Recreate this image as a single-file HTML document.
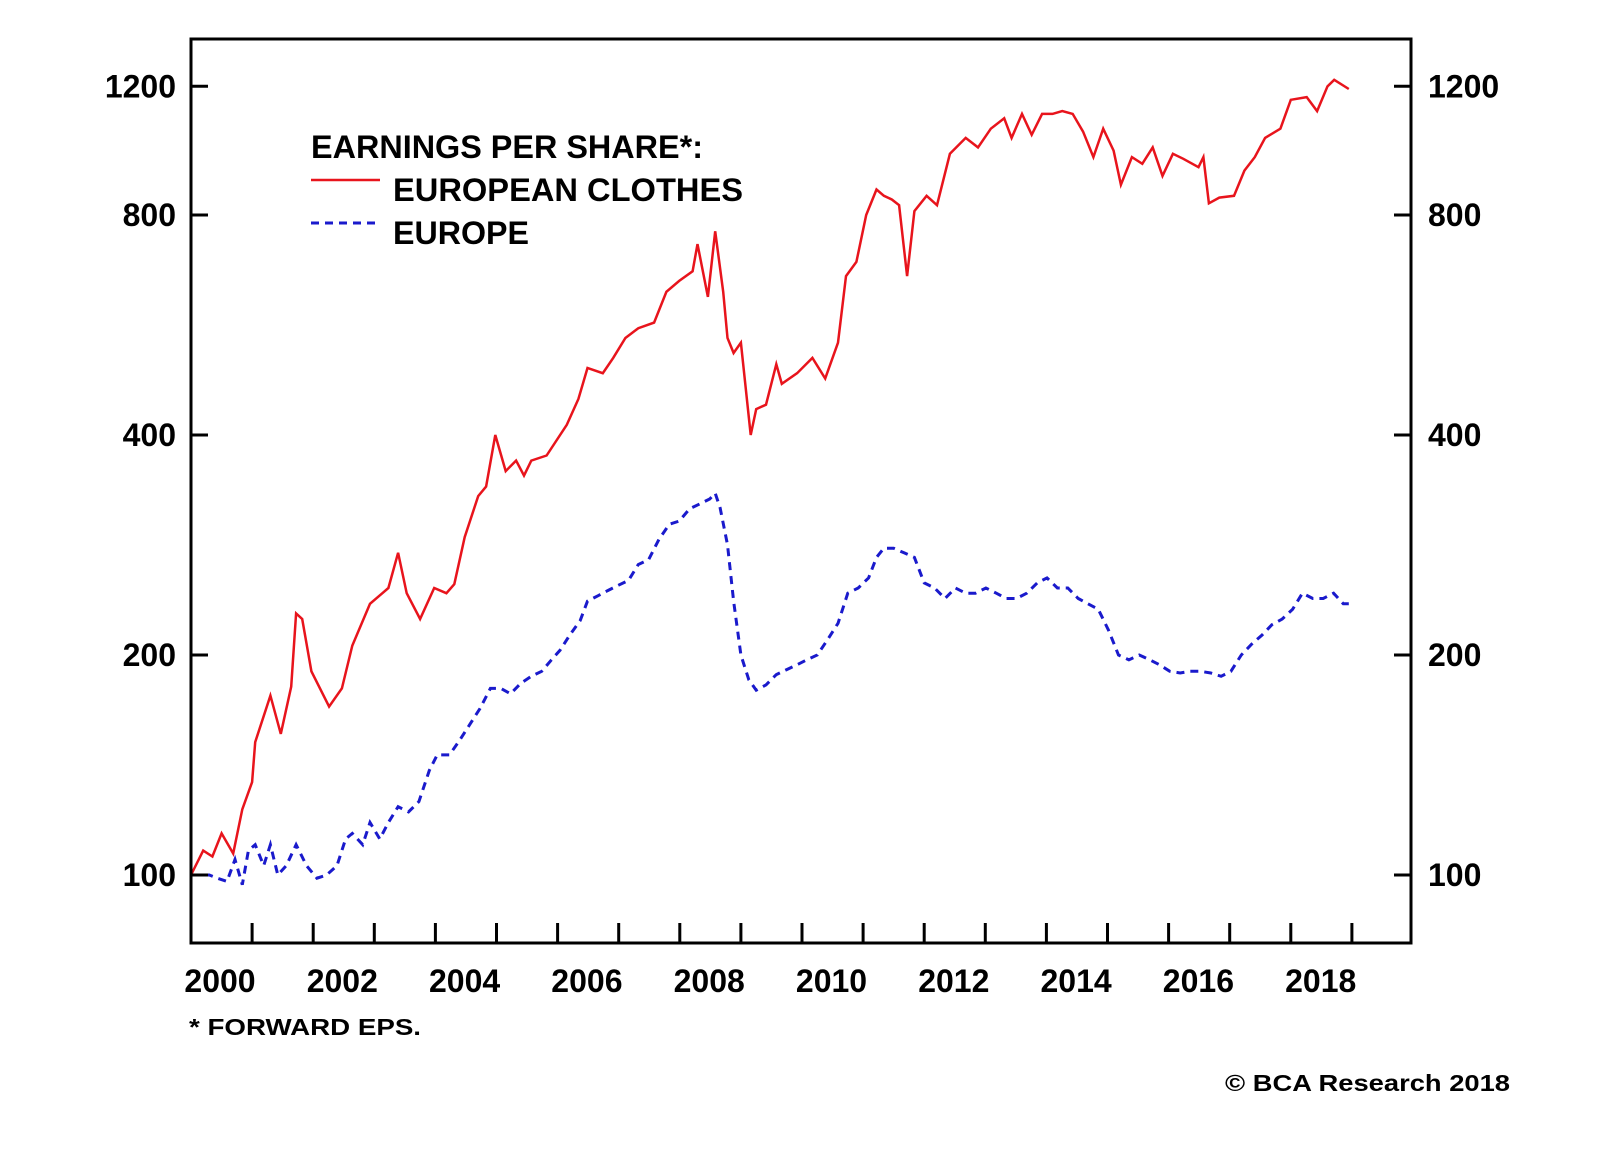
<!DOCTYPE html>
<html><head><meta charset="utf-8">
<style>
html,body{margin:0;padding:0;background:#fff;}
svg{display:block;font-family:"Liberation Sans",Arial,sans-serif;font-weight:bold;}
</style></head>
<body>
<svg id="chart" width="1600" height="1152" viewBox="0 0 1600 1152" xmlns="http://www.w3.org/2000/svg">
<g id="plot"></g>
<g id="axes"></g>
<g>
  <text x="311" y="158" font-size="32" textLength="392" lengthAdjust="spacingAndGlyphs">EARNINGS PER SHARE*:</text>
  <line x1="311" y1="180" x2="380" y2="180" stroke="#e8141c" stroke-width="2.5"/>
  <text x="393" y="201" font-size="32" textLength="350" lengthAdjust="spacingAndGlyphs">EUROPEAN CLOTHES</text>
  <line x1="311" y1="223" x2="380" y2="223" stroke="#1a1acc" stroke-width="3" stroke-dasharray="8,6"/>
  <text x="393" y="244" font-size="32" textLength="136" lengthAdjust="spacingAndGlyphs">EUROPE</text>
</g>
<text x="189" y="1035" font-size="23" textLength="232" lengthAdjust="spacingAndGlyphs">* FORWARD EPS.</text>
<text x="1510" y="1091" font-size="23" text-anchor="end" textLength="285" lengthAdjust="spacingAndGlyphs">© BCA Research 2018</text>
</svg>
<script>
const yTicks=[100,200,400,800,1200];
const xLabels=["2000","2002","2004","2006","2008","2010","2012","2014","2016","2018"];
const redT=[0,0.2,0.35,0.5,0.69,0.84,1.0,1.05,1.3,1.47,1.64,1.72,1.82,1.97,2.26,2.47,2.64,2.93,3.23,3.39,3.53,3.75,3.98,4.18,4.31,4.48,4.7,4.83,4.98,5.15,5.32,5.45,5.57,5.82,6.15,6.34,6.49,6.74,6.91,7.11,7.32,7.58,7.78,7.99,8.21,8.29,8.46,8.58,8.71,8.78,8.88,9.0,9.16,9.25,9.41,9.58,9.67,9.92,10.17,10.38,10.59,10.72,10.89,11.05,11.22,11.34,11.47,11.59,11.72,11.84,12.04,12.21,12.42,12.68,12.88,13.09,13.31,13.43,13.6,13.76,13.93,14.1,14.26,14.43,14.6,14.77,14.93,15.1,15.22,15.4,15.57,15.74,15.9,16.07,16.24,16.49,16.57,16.66,16.83,17.07,17.24,17.41,17.58,17.83,18.0,18.26,18.43,18.6,18.71,18.95];
const redV=[100,108,106,114,107,123,134,152,176,156,181,228,224,190,170,180,206,235,247,276,243,224,247,243,250,290,330,340,400,357,369,352,369,375,413,448,494,486,510,543,560,570,628,650,670,730,618,760,628,543,518,535,400,434,440,500,470,486,510,478,535,660,690,800,867,850,840,825,660,810,850,825,970,1020,990,1050,1085,1020,1100,1030,1100,1100,1110,1100,1040,960,1050,980,880,960,940,990,905,970,955,930,960,830,845,850,920,960,1020,1050,1150,1160,1110,1200,1225,1190];
const blueT=[0,0.13,0.3,0.43,0.59,0.72,0.84,0.94,1.05,1.19,1.3,1.42,1.56,1.72,1.89,2.06,2.22,2.39,2.53,2.64,2.81,2.93,3.09,3.23,3.39,3.56,3.73,3.9,4.03,4.23,4.4,4.57,4.73,4.9,5.07,5.23,5.4,5.57,5.74,5.9,6.04,6.2,6.37,6.49,6.66,6.82,6.99,7.16,7.32,7.49,7.66,7.83,7.99,8.16,8.33,8.49,8.58,8.66,8.78,8.88,9.0,9.13,9.25,9.41,9.58,9.75,9.92,10.08,10.25,10.42,10.59,10.75,10.92,11.09,11.22,11.34,11.5,11.67,11.84,12.0,12.17,12.34,12.51,12.68,12.84,13.01,13.18,13.34,13.51,13.68,13.85,14.01,14.18,14.35,14.52,14.68,14.85,15.02,15.18,15.35,15.52,15.69,15.85,16.02,16.19,16.35,16.52,16.69,16.86,17.02,17.19,17.36,17.53,17.69,17.86,18.03,18.19,18.36,18.53,18.7,18.86,18.95];
const blueV=[100,100,100,99,98,105,97,108,110,103,110,100,103,110,103,99,100,103,112,114,110,118,112,118,124,122,126,139,146,146,153,161,169,180,180,177,183,187,190,197,203,213,223,237,241,245,249,253,266,270,288,302,305,317,322,327,333,318,283,237,200,185,179,182,188,191,194,197,200,210,221,243,247,255,272,280,280,276,272,251,247,239,247,243,243,247,243,239,239,243,251,255,247,247,239,235,231,216,200,197,200,197,194,190,189,190,190,189,187,190,200,207,213,220,224,231,243,239,239,243,235,235];

const L=191,R=1411,T=39,B=943;
const NS="http://www.w3.org/2000/svg";
function xs(t){return L+61.1*t;}
function ys(v){return 875-220*Math.log2(v/100);}
function mk(tag,attrs,parent){const e=document.createElementNS(NS,tag);for(const k in attrs)e.setAttribute(k,attrs[k]);parent.appendChild(e);return e;}
const plot=document.getElementById('plot'),axes=document.getElementById('axes');

function pathFor(ts,vs){return ts.map((t,i)=>(i?'L':'M')+xs(t).toFixed(1)+','+ys(vs[i]).toFixed(1)).join(' ');}
const bl=mk('path',{d:pathFor(blueT,blueV),fill:'none',stroke:'#1a1acc','stroke-width':3,'stroke-dasharray':'8,6'},plot);


const rl=mk('path',{d:pathFor(redT,redV),fill:'none',stroke:'#e8141c','stroke-width':2.5,'stroke-linejoin':'miter'},plot);



const frame=mk('rect',{x:L,y:T,width:R-L,height:B-T,fill:'none',stroke:'#000','stroke-width':3},axes);



yTicks.forEach(v=>{
  const y=ys(v);
  const t1=mk('line',{x1:L,y1:y,x2:L+17,y2:y,stroke:'#000','stroke-width':3},axes);
  
  
  const t2=mk('line',{x1:R-17,y1:y,x2:R,y2:y,stroke:'#000','stroke-width':3},axes);
  
  
  const a=mk('text',{x:176,y:y+11,'font-size':32,'text-anchor':'end'},axes);
  a.textContent=v;
  
  
  const b=mk('text',{x:1428,y:y+11,'font-size':32},axes);
  b.textContent=v;
  
  
});
for(let k=1;k<=19;k++){
  const x=xs(k);
  const t=mk('line',{x1:x,y1:B,x2:x,y2:B-20,stroke:'#000','stroke-width':3},axes);
  
  
}
xLabels.forEach((s,i)=>{
  const x=220+122.3*i;
  const e=mk('text',{x:x,y:992,'font-size':32,'text-anchor':'middle'},axes);
  e.textContent=s;
  
  
});
</script>
</body></html>
